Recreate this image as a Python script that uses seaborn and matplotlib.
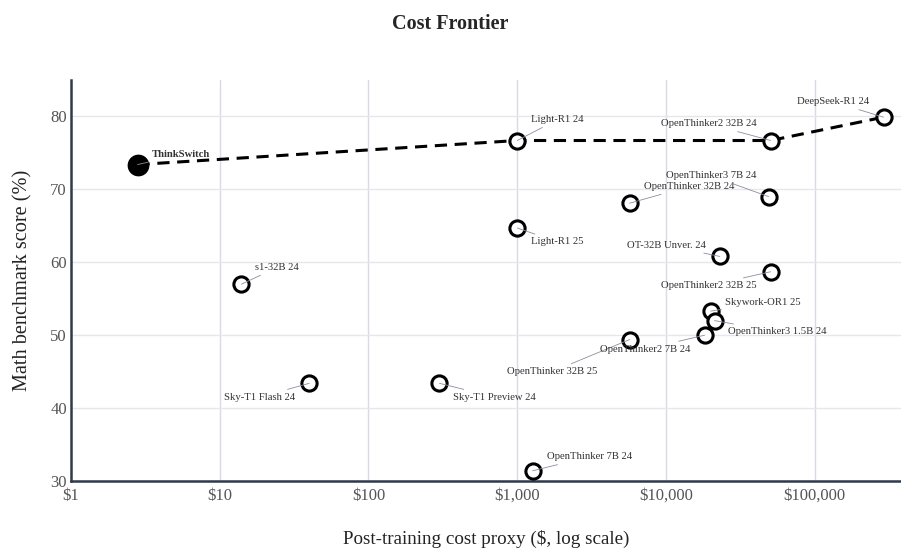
import numpy as np
import pandas as pd
import matplotlib
matplotlib.use("Agg")
import matplotlib.pyplot as plt
import seaborn as sns

# data
models = ["ThinkSwitch", "s1-32B 24", "Sky-T1 Flash 24", "Sky-T1 Preview 24",
          "Light-R1 24", "Light-R1 25", "OpenThinker 7B 24", "OpenThinker 32B 24",
          "OpenThinker 32B 25", "OpenThinker2 7B 24", "Skywork-OR1 25",
          "OpenThinker3 1.5B 24", "OT-32B Unver. 24", "OpenThinker2 32B 24",
          "OpenThinker2 32B 25", "OpenThinker3 7B 24", "DeepSeek-R1 24"]
cost = [2.8, 14, 40, 300, 1000, 1000, 1270, 5700, 5700, 18200, 20000,
        21200, 23000, 50500, 50500, 49000, 290000]
score = [73.4, 57.0, 43.4, 43.4, 76.7, 64.7, 31.4, 68.1, 49.4, 50.0, 53.3,
         52.0, 60.8, 76.7, 58.7, 69.0, 79.9]
frontier = ["ThinkSwitch", "Light-R1 24", "OpenThinker2 32B 24", "DeepSeek-R1 24"]

# label offsets in points (dx, dy)
offsets = [(10, 7), (10, 12), (-10, -10), (10, -10), (10, 15), (10, -10),
           (10, 10), (10, 12), (-23, -23), (-10, -10), (10, 6), (10, -8),
           (-10, 8), (-10, 12), (-10, -10), (-9, 15), (-10, 11)]

df = pd.DataFrame({"model": models, "cost": cost, "score": score})
front = df.set_index("model").loc[frontier].reset_index()

sns.set_style("white")
plt.rcParams["font.family"] = ["Liberation Serif", "DejaVu Serif"]

fig = plt.figure(figsize=(9.01, 5.54), dpi=100)
ax = fig.add_axes([0.0788, 0.1318, 0.9212, 0.7238])

ax.set_xscale("log")
ax.grid(True, which="major", axis="y", color="#e6e6ec", lw=1.0, zorder=0)
ax.grid(True, which="major", axis="x", color="#dadae4", lw=1.0, zorder=0)
ax.set_axisbelow(True)

sns.lineplot(data=front, x="cost", y="score", sort=False, color="black",
             lw=2.2, ax=ax, zorder=2)
ax.lines[-1].set_dashes([4, 2.5])

others = df[df["model"] != "ThinkSwitch"]
sns.scatterplot(data=others, x="cost", y="score", s=120, facecolor="white",
                edgecolor="black", linewidth=2.2, ax=ax, zorder=3)
sns.scatterplot(data=df[df["model"] == "ThinkSwitch"], x="cost", y="score",
                s=210, color="black", edgecolor="black", ax=ax, zorder=3)

for (name, c, s_), (dx, dy) in zip(zip(models, cost, score), offsets):
    ha = "left" if dx > 0 else "right"
    ax.annotate(name, xy=(c, s_), xytext=(dx, dy), textcoords="offset points",
                ha=ha, va="center", fontsize=7.7, color="#333333",
                fontweight="bold" if name == "ThinkSwitch" else "normal",
                arrowprops=dict(arrowstyle="-", color="#8a8fa0", lw=0.6,
                                shrinkA=0, shrinkB=0),
                zorder=4)

ax.set_xlim(1, 10 ** 5.58)
ax.set_ylim(30, 85)
ax.set_xticks([1, 10, 100, 1000, 10000, 100000])
ax.set_xticklabels(["$1", "$10", "$100", "$1,000", "$10,000", "$100,000"])
ax.set_yticks([30, 40, 50, 60, 70, 80])
ax.minorticks_off()
ax.tick_params(length=0, labelsize=12, labelcolor="#555555")
ax.tick_params(axis="x", pad=5)
ax.tick_params(axis="y", pad=3)

for side in ["top", "right"]:
    ax.spines[side].set_visible(False)
for side in ["left", "bottom"]:
    ax.spines[side].set_color("#2f3a4a")
    ax.spines[side].set_linewidth(1.8)

ax.set_xlabel("Post-training cost proxy ($, log scale)", fontsize=13.7,
              color="#222222", labelpad=19)
ax.set_ylabel("Math benchmark score (%)", fontsize=14.6, color="#222222",
              labelpad=13)
fig.suptitle("Cost Frontier", fontsize=14.5, fontweight="bold", y=0.974,
             x=0.5)

fig.savefig("out.png", dpi=100)
